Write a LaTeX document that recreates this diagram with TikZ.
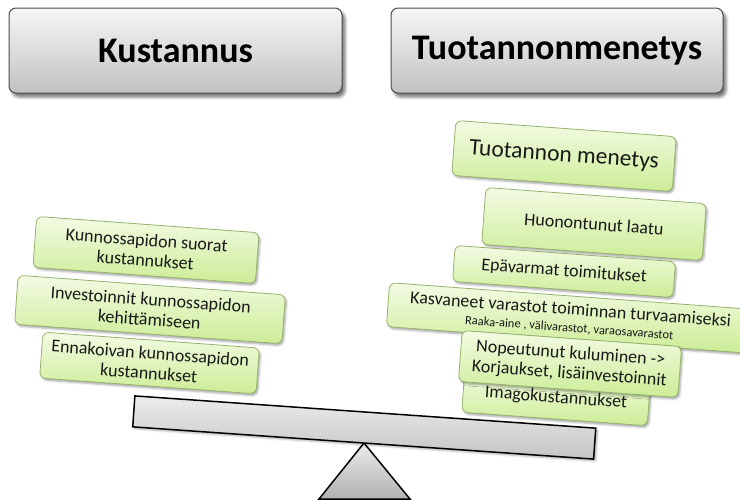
\documentclass[tikz,border=0pt]{standalone}
\usepackage{fontspec}
\setmainfont{Carlito}
\usetikzlibrary{shadows.blur}

\definecolor{greentop}{RGB}{243,251,228}
\definecolor{greenbot}{RGB}{204,237,150}
\definecolor{greenline}{RGB}{150,178,108}
\definecolor{headtop}{RGB}{246,246,246}
\definecolor{headbot}{RGB}{194,194,194}
\definecolor{beamtop}{RGB}{236,236,236}
\definecolor{beambot}{RGB}{196,196,196}

\tikzset{
  header/.style={draw=black!70, line width=1pt, rounded corners=7pt,
    top color=headtop, bottom color=headbot, inner sep=0pt,
    minimum width=333pt, minimum height=85pt,
    font=\fontsize{36}{40}\selectfont\bfseries,
    blur shadow={shadow xshift=3pt, shadow yshift=-4pt,
      shadow blur radius=3pt, shadow opacity=55}},
  card/.style={draw=greenline, line width=0.8pt, rounded corners=6pt,
    top color=greentop, bottom color=greenbot, rotate=-4.2,
    inner sep=0pt, align=center, text=black!90,
    font=\fontsize{18}{20}\selectfont,
    blur shadow={shadow xshift=1.5pt, shadow yshift=-2pt,
      shadow blur radius=2pt, shadow opacity=35}},
  beamstyle/.style={draw=black, line width=1.5pt, rotate=-4,
    top color=beamtop, bottom color=beambot, inner sep=0pt,
    minimum width=462pt, minimum height=31pt,
    blur shadow={shadow xshift=2pt, shadow yshift=-2pt,
      shadow blur radius=2pt, shadow opacity=30}},
  pivot/.style={draw=black, line width=1.5pt, line join=miter,
    top color=beamtop, bottom color=beambot!90!black},
}

\begin{document}
\begin{tikzpicture}[x=1pt, y=-1pt]
\useasboundingbox (0,0) rectangle (740,501);

% headings
\node[header] (cost) at (175.5,50.5) {Kustannus};
\node[header, minimum width=332pt] (loss) at (557,50.5) {Tuotannonmenetys};

% cost side of the scale
\node[card, minimum width=223pt, minimum height=51pt] (c1) at (146,250)
  {Kunnossapidon suorat\\kustannukset};
\node[card, minimum width=268pt, minimum height=49pt] (c2) at (150,309.5)
  {Investoinnit kunnossapidon\\kehittämiseen};
\node[card, minimum width=217pt, minimum height=46pt] (c3) at (149.5,363)
  {Ennakoivan kunnossapidon\\kustannukset};

% production loss side of the scale
\node[card, minimum width=221pt, minimum height=55pt,
  font=\fontsize{23.5}{26}\selectfont] (p1) at (564,156) {Tuotannon menetys};
\node[card, minimum width=221pt, minimum height=57pt] (p2) at (594,224)
  {Huonontunut laatu};
\node[card, minimum width=221pt, minimum height=36pt] (p3) at (564,271.5)
  {Epävarmat toimitukset};
\node[card, minimum width=365pt, minimum height=44pt] (p4) at (570,318)
  {Kasvaneet varastot toiminnan turvaamiseksi\\[-3pt]
   {\fontsize{12.5}{13}\selectfont Raaka-aine , välivarastot, varaosavarastot}};
\node[card, minimum width=186pt, minimum height=42pt] (p6) at (556,398)
  {Imagokustannukset};
\node[card, minimum width=220pt, minimum height=51pt] (p5) at (570,364)
  {Nopeutunut kuluminen ->\\Korjaukset, lisäinvestoinnit};

% the balance: pivot and beam
\coordinate (apex) at (364,443);
\coordinate (baseL) at (319,499);
\coordinate (baseR) at (410,499);
\path[pivot] (apex) -- (baseR) -- (baseL) -- cycle;
\node[beamstyle] (beam) at (364.25,427.5) {};
\end{tikzpicture}
\end{document}
